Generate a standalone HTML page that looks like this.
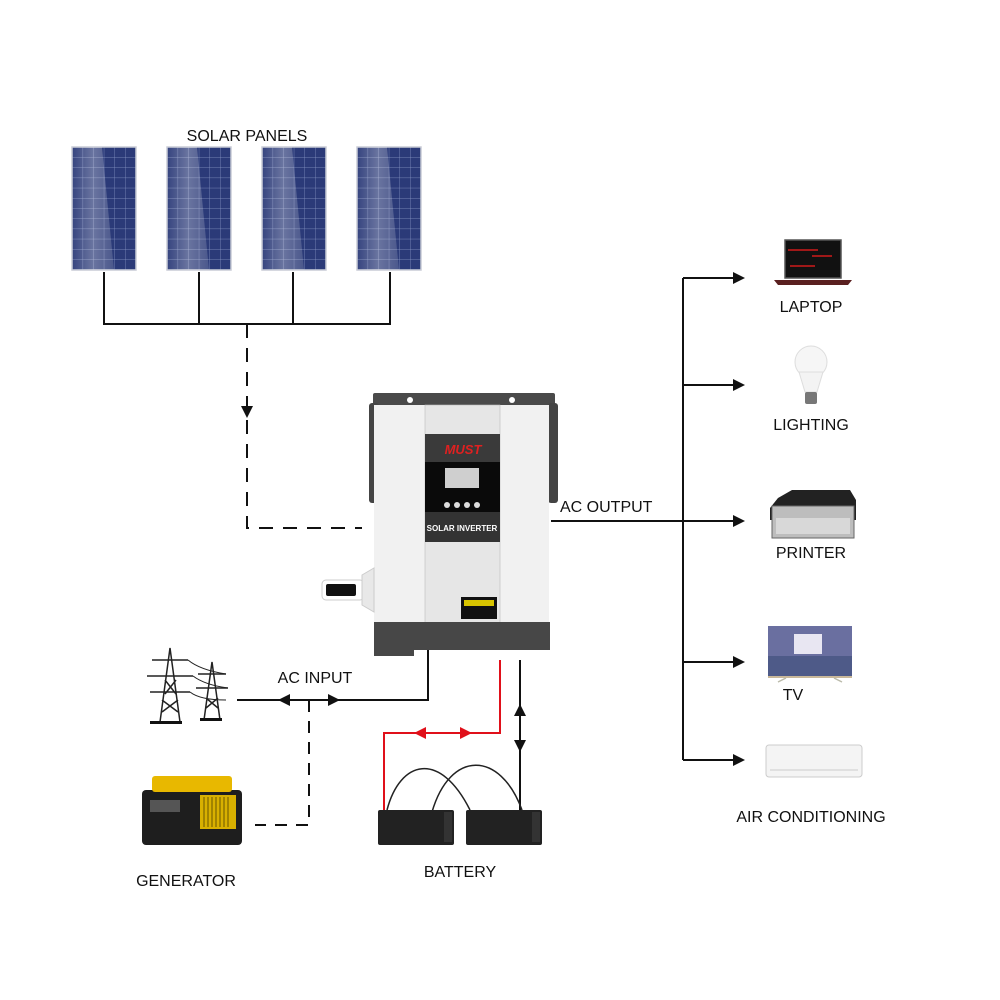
<!DOCTYPE html>
<html><head><meta charset="utf-8"><style>
html,body{margin:0;padding:0;background:#fff;width:1000px;height:1000px;overflow:hidden}
svg{display:block}
text{font-family:"Liberation Sans",sans-serif;fill:#111}
</style></head><body>
<svg width="1000" height="1000" viewBox="0 0 1000 1000" xmlns="http://www.w3.org/2000/svg">
<defs>
<pattern id="cells" x="0" y="0" width="10.6" height="10.2" patternUnits="userSpaceOnUse">
<rect width="10.6" height="10.2" fill="#2b3a78"/>
<path d="M0 0H10.6M0 0V10.2" stroke="#8d9bc8" stroke-width="0.7"/>
</pattern>
<linearGradient id="sheen" x1="0" x2="1" y1="0" y2="0">
<stop offset="0" stop-color="#fff" stop-opacity="0.05"/>
<stop offset="0.5" stop-color="#fff" stop-opacity="0.3"/>
<stop offset="1" stop-color="#fff" stop-opacity="0.15"/>
</linearGradient>
<g id="panel">
<rect x="0" y="0" width="64" height="123" fill="url(#cells)" stroke="#c9ccd6" stroke-width="1.5"/>
<polygon points="0,0 30,0 42,123 0,123" fill="url(#sheen)"/>
</g>
</defs>

<text x="247" y="141" font-size="16" text-anchor="middle">SOLAR PANELS</text>
<use href="#panel" x="72" y="147"/>
<use href="#panel" x="167" y="147"/>
<use href="#panel" x="262" y="147"/>
<use href="#panel" x="357" y="147"/>

<g stroke="#111" stroke-width="2" fill="none">
<path d="M104 272V324M199 272V324M293 272V324M390 272V324M103 324H391"/>
<path d="M247 324V528H362" stroke-dasharray="14 10"/>
</g>
<polygon points="241,406 253,406 247,418" fill="#111"/>

<!-- Inverter -->
<rect x="373" y="393" width="182" height="14" fill="#4a4a4a" rx="2"/>
<circle cx="410" cy="400" r="3" fill="#fff"/><circle cx="512" cy="400" r="3" fill="#fff"/>
<rect x="369" y="403" width="10" height="100" fill="#444" rx="3"/>
<rect x="548" y="403" width="10" height="100" fill="#444" rx="3"/>
<rect x="374" y="405" width="175" height="220" fill="#f1f1f1"/>
<rect x="425" y="405" width="75" height="220" fill="#e6e6e6" stroke="#bbb" stroke-width="0.6"/>
<rect x="425" y="434" width="75" height="28" fill="#3a3a3a"/>
<text x="463" y="454" font-size="13" font-weight="bold" font-style="italic" text-anchor="middle" style="fill:#e02020">MUST</text>
<rect x="425" y="462" width="75" height="50" fill="#0a0a0a"/>
<rect x="445" y="468" width="34" height="20" fill="#cfcfcf"/>
<g fill="#ddd"><circle cx="447" cy="505" r="3"/><circle cx="457" cy="505" r="3"/><circle cx="467" cy="505" r="3"/><circle cx="477" cy="505" r="3"/></g>
<rect x="425" y="512" width="75" height="30" fill="#333"/>
<text x="462" y="531" font-size="8" font-weight="bold" text-anchor="middle" style="fill:#fff">SOLAR INVERTER</text>
<rect x="461" y="597" width="36" height="22" fill="#111"/>
<rect x="464" y="600" width="30" height="6" fill="#d8c400"/>
<rect x="374" y="622" width="176" height="28" fill="#474747"/>
<rect x="374" y="648" width="40" height="8" fill="#474747"/>
<rect x="322" y="580" width="42" height="20" fill="#fff" stroke="#ccc" rx="4"/>
<rect x="326" y="584" width="30" height="12" fill="#111" rx="2"/>
<polygon points="362,575 374,568 374,612 362,605" fill="#e8e8e8" stroke="#ccc"/>

<!-- AC output -->
<text x="560" y="512" font-size="16">AC OUTPUT</text>
<g stroke="#111" stroke-width="2" fill="none">
<path d="M551 521H735M683 278V760M683 278H735M683 385H735M683 662H735M683 760H735"/>
</g>
<g fill="#111">
<polygon points="733,272 745,278 733,284"/>
<polygon points="733,379 745,385 733,391"/>
<polygon points="733,515 745,521 733,527"/>
<polygon points="733,656 745,662 733,668"/>
<polygon points="733,754 745,760 733,766"/>
</g>

<!-- Laptop -->
<rect x="785" y="240" width="56" height="38" fill="#111" stroke="#555" stroke-width="1.5"/>
<path d="M788 250h30M812 256h20M790 266h25" stroke="#a01818" stroke-width="2"/>
<polygon points="774,280 852,280 848,285 778,285" fill="#5a2020"/>
<text x="811" y="312" font-size="16" text-anchor="middle">LAPTOP</text>

<!-- Bulb -->
<circle cx="811" cy="362" r="16" fill="#f6f6f6" stroke="#ddd"/>
<path d="M799 372 L805 392 H817 L823 372Z" fill="#f3f3f3" stroke="#ddd"/>
<rect x="805" y="392" width="12" height="12" fill="#777" rx="2"/>
<text x="811" y="430" font-size="16" text-anchor="middle">LIGHTING</text>

<!-- Printer -->
<polygon points="778,498 792,490 850,490 856,500 856,520 770,520 770,508" fill="#222"/>
<rect x="772" y="506" width="82" height="32" fill="#bdbdbd" stroke="#666"/>
<rect x="776" y="518" width="74" height="16" fill="#d8d8d8"/>
<text x="811" y="558" font-size="16" text-anchor="middle">PRINTER</text>

<!-- TV -->
<rect x="768" y="626" width="84" height="50" fill="#6a6fa0"/>
<rect x="794" y="634" width="28" height="20" fill="#e8e6f2"/>
<rect x="768" y="656" width="84" height="20" fill="#4e5a88"/>
<rect x="768" y="676" width="84" height="2" fill="#c9b89a"/>
<path d="M778 682l8-4M842 682l-8-4" stroke="#bba" stroke-width="1.5"/>
<text x="793" y="700" font-size="16" text-anchor="middle">TV</text>

<!-- AC -->
<rect x="766" y="745" width="96" height="32" fill="#f4f4f4" stroke="#ccc" rx="3"/>
<path d="M770 770H858" stroke="#ccc"/>
<text x="811" y="822" font-size="16" text-anchor="middle">AIR CONDITIONING</text>

<!-- Towers -->
<g stroke="#222" stroke-width="1.5" fill="none">
<path d="M160 722L170 648L180 722M152 660H188M147 676H193M150 692H190M162 700L178 712M178 700L162 712M165 680L176 694M176 680L165 694"/>
<path d="M204 720L212 662L220 720M198 674H226M196 688H228M206 698L218 708M218 698L206 708"/>
<path d="M188 660Q200 670 226 674M193 676Q205 685 228 688M190 692Q200 700 226 700" stroke-width="1"/>
</g>
<rect x="150" y="721" width="32" height="3" fill="#111"/>
<rect x="200" y="718" width="22" height="3" fill="#111"/>

<!-- AC input -->
<text x="315" y="683" font-size="16" text-anchor="middle">AC INPUT</text>
<g stroke="#111" stroke-width="2" fill="none">
<path d="M428 650V700H237"/>
<path d="M309 700V825H255" stroke-dasharray="12 9"/>
</g>
<g fill="#111">
<polygon points="278,700 290,694 290,706"/>
<polygon points="340,700 328,694 328,706"/>
</g>

<!-- Generator -->
<rect x="142" y="790" width="100" height="55" fill="#1e1e1e" rx="4"/>
<rect x="152" y="776" width="80" height="16" fill="#e8b800" rx="3"/>
<rect x="200" y="795" width="36" height="34" fill="#d8b000"/>
<path d="M204 797v30M208 797v30M212 797v30M216 797v30M220 797v30M224 797v30M228 797v30" stroke="#6a5600"/>
<rect x="150" y="800" width="30" height="12" fill="#555"/>
<text x="186" y="886" font-size="16" text-anchor="middle">GENERATOR</text>

<!-- Battery connections -->
<g fill="none" stroke-width="2">
<path d="M500 660V733H384V810" stroke="#e0101a"/>
<path d="M520 660V810" stroke="#111"/>
<path d="M387 810C400 760 440 750 470 810" stroke="#222" stroke-width="1.5"/>
<path d="M432 812C450 750 500 750 522 810" stroke="#222" stroke-width="1.5"/>
</g>
<g fill="#e0101a">
<polygon points="414,733 426,727 426,739"/>
<polygon points="472,733 460,727 460,739"/>
</g>
<g fill="#111">
<polygon points="520,704 514,716 526,716"/>
<polygon points="520,752 514,740 526,740"/>
</g>
<rect x="378" y="810" width="76" height="35" fill="#222" rx="2"/>
<rect x="466" y="810" width="76" height="35" fill="#222" rx="2"/>
<rect x="444" y="812" width="8" height="30" fill="#333"/>
<rect x="532" y="812" width="8" height="30" fill="#333"/>
<text x="460" y="877" font-size="16" text-anchor="middle">BATTERY</text>
</svg>
</body></html>
